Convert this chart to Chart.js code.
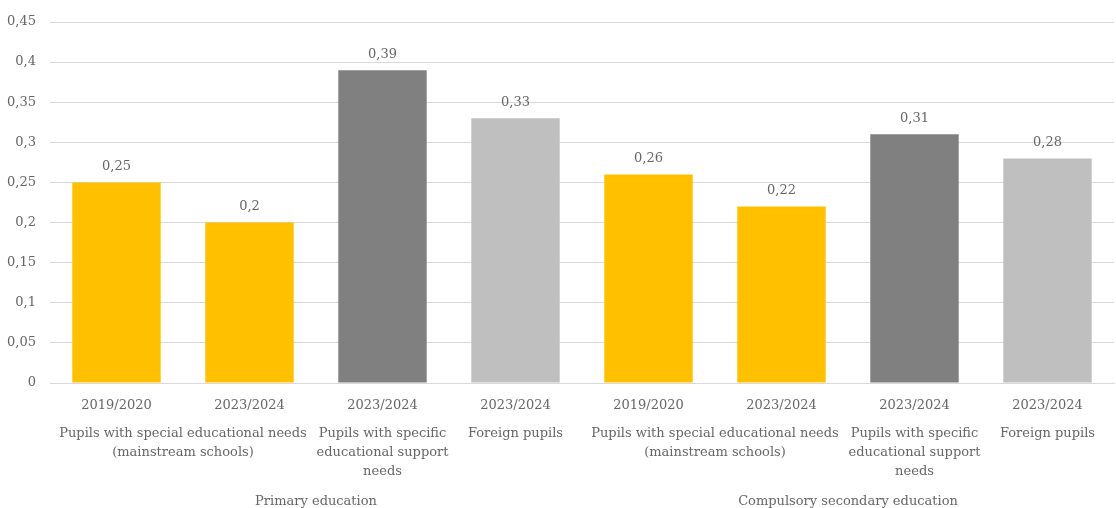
<!DOCTYPE html>
<html>
<head>
<meta charset="utf-8">
<script src="https://cdn.jsdelivr.net/npm/chart.js@4.4.1/dist/chart.umd.min.js"></script>
<style>
  html, body { margin: 0; padding: 0; background: #fff; }
  #wrap { width: 1116px; height: 508px; }
</style>
</head>
<body>
<div id="wrap"><canvas id="chart"></canvas></div>
<script>
// ================= DATA =================
const years = ["2019/2020","2023/2024","2023/2024","2023/2024","2019/2020","2023/2024","2023/2024","2023/2024"];
const categories = [
  ["Pupils with special educational needs","(mainstream schools)"],
  ["Pupils with special educational needs","(mainstream schools)"],
  ["Pupils with specific","educational support","needs"],
  ["Foreign pupils"],
  ["Pupils with special educational needs","(mainstream schools)"],
  ["Pupils with special educational needs","(mainstream schools)"],
  ["Pupils with specific","educational support","needs"],
  ["Foreign pupils"]
];
const stages = ["Primary education","Primary education","Primary education","Primary education",
  "Compulsory secondary education","Compulsory secondary education","Compulsory secondary education","Compulsory secondary education"];
const values = [0.25, 0.2, 0.39, 0.33, 0.26, 0.22, 0.31, 0.28];
const barColors = ["#FFC000","#FFC000","#808080","#BFBFBF","#FFC000","#FFC000","#808080","#BFBFBF"];

const FONT = "'DejaVu Serif', serif";
const TEXT = "#666666";
const comma = v => String(Math.round(v * 100) / 100).replace(".", ",");

// group consecutive identical labels so one text spans several bars
function spans(list){
  const out = [];
  list.forEach((item, i) => {
    const key = Array.isArray(item) ? item.join("|") : item;
    const last = out[out.length - 1];
    if(last && last.key === key) last.to = i;
    else out.push({key, lines: Array.isArray(item) ? item : [item], from: i, to: i});
  });
  return out;
}

// ================= PLUGINS =================
const valueLabels = {
  id: "valueLabels",
  afterDatasetsDraw(chart){
    const ctx = chart.ctx;
    const meta = chart.getDatasetMeta(0);
    ctx.save();
    ctx.font = "13px " + FONT;
    ctx.fillStyle = TEXT;
    ctx.textAlign = "center";
    ctx.textBaseline = "bottom";
    meta.data.forEach((bar, i) => {
      ctx.fillText(comma(values[i]), bar.x, bar.y - 9);
    });
    ctx.restore();
  }
};

const groupLabels = {
  id: "groupLabels",
  afterDraw(chart){
    const ctx = chart.ctx;
    const x = chart.scales.x;
    const base = chart.chartArea.bottom;
    ctx.save();
    ctx.fillStyle = TEXT;
    ctx.textAlign = "center";
    ctx.textBaseline = "middle";
    ctx.font = "13px " + FONT;
    spans(categories).forEach(s => {
      const cx = (x.getPixelForValue(s.from) + x.getPixelForValue(s.to)) / 2;
      s.lines.forEach((line, k) => ctx.fillText(line, cx, base + 51 + k * 19));
    });
    spans(stages).forEach(s => {
      const cx = (x.getPixelForValue(s.from) + x.getPixelForValue(s.to)) / 2;
      ctx.fillText(s.lines[0], cx, base + 119);
    });
    ctx.restore();
  }
};

// ================= CHART =================
new Chart(document.getElementById("chart"), {
  type: "bar",
  data: {
    labels: years,
    datasets: [{
      data: values,
      backgroundColor: barColors,
      categoryPercentage: 1,
      barPercentage: 0.665
    }]
  },
  options: {
    responsive: true,
    maintainAspectRatio: false,
    animation: false,
    layout: { padding: { top: 22, right: 2, left: 0, bottom: 0 } },
    plugins: { legend: { display: false }, tooltip: { enabled: false } },
    scales: {
      x: {
        grid: { display: false, drawTicks: false },
        border: { color: "#D9D9D9", width: 1 },
        ticks: { color: TEXT, font: { family: FONT, size: 13 }, padding: 15, maxRotation: 0, autoSkip: false },
        afterFit(scale){ scale.height = 125; }
      },
      y: {
        min: 0, max: 0.45,
        ticks: { stepSize: 0.05, color: TEXT, font: { family: FONT, size: 13 }, padding: 14, callback: v => comma(v) },
        grid: { color: "#D9D9D9", drawTicks: false },
        border: { display: false },
        afterFit(scale){ scale.width = 50; }
      }
    }
  },
  plugins: [valueLabels, groupLabels]
});
</script>
</body>
</html>
